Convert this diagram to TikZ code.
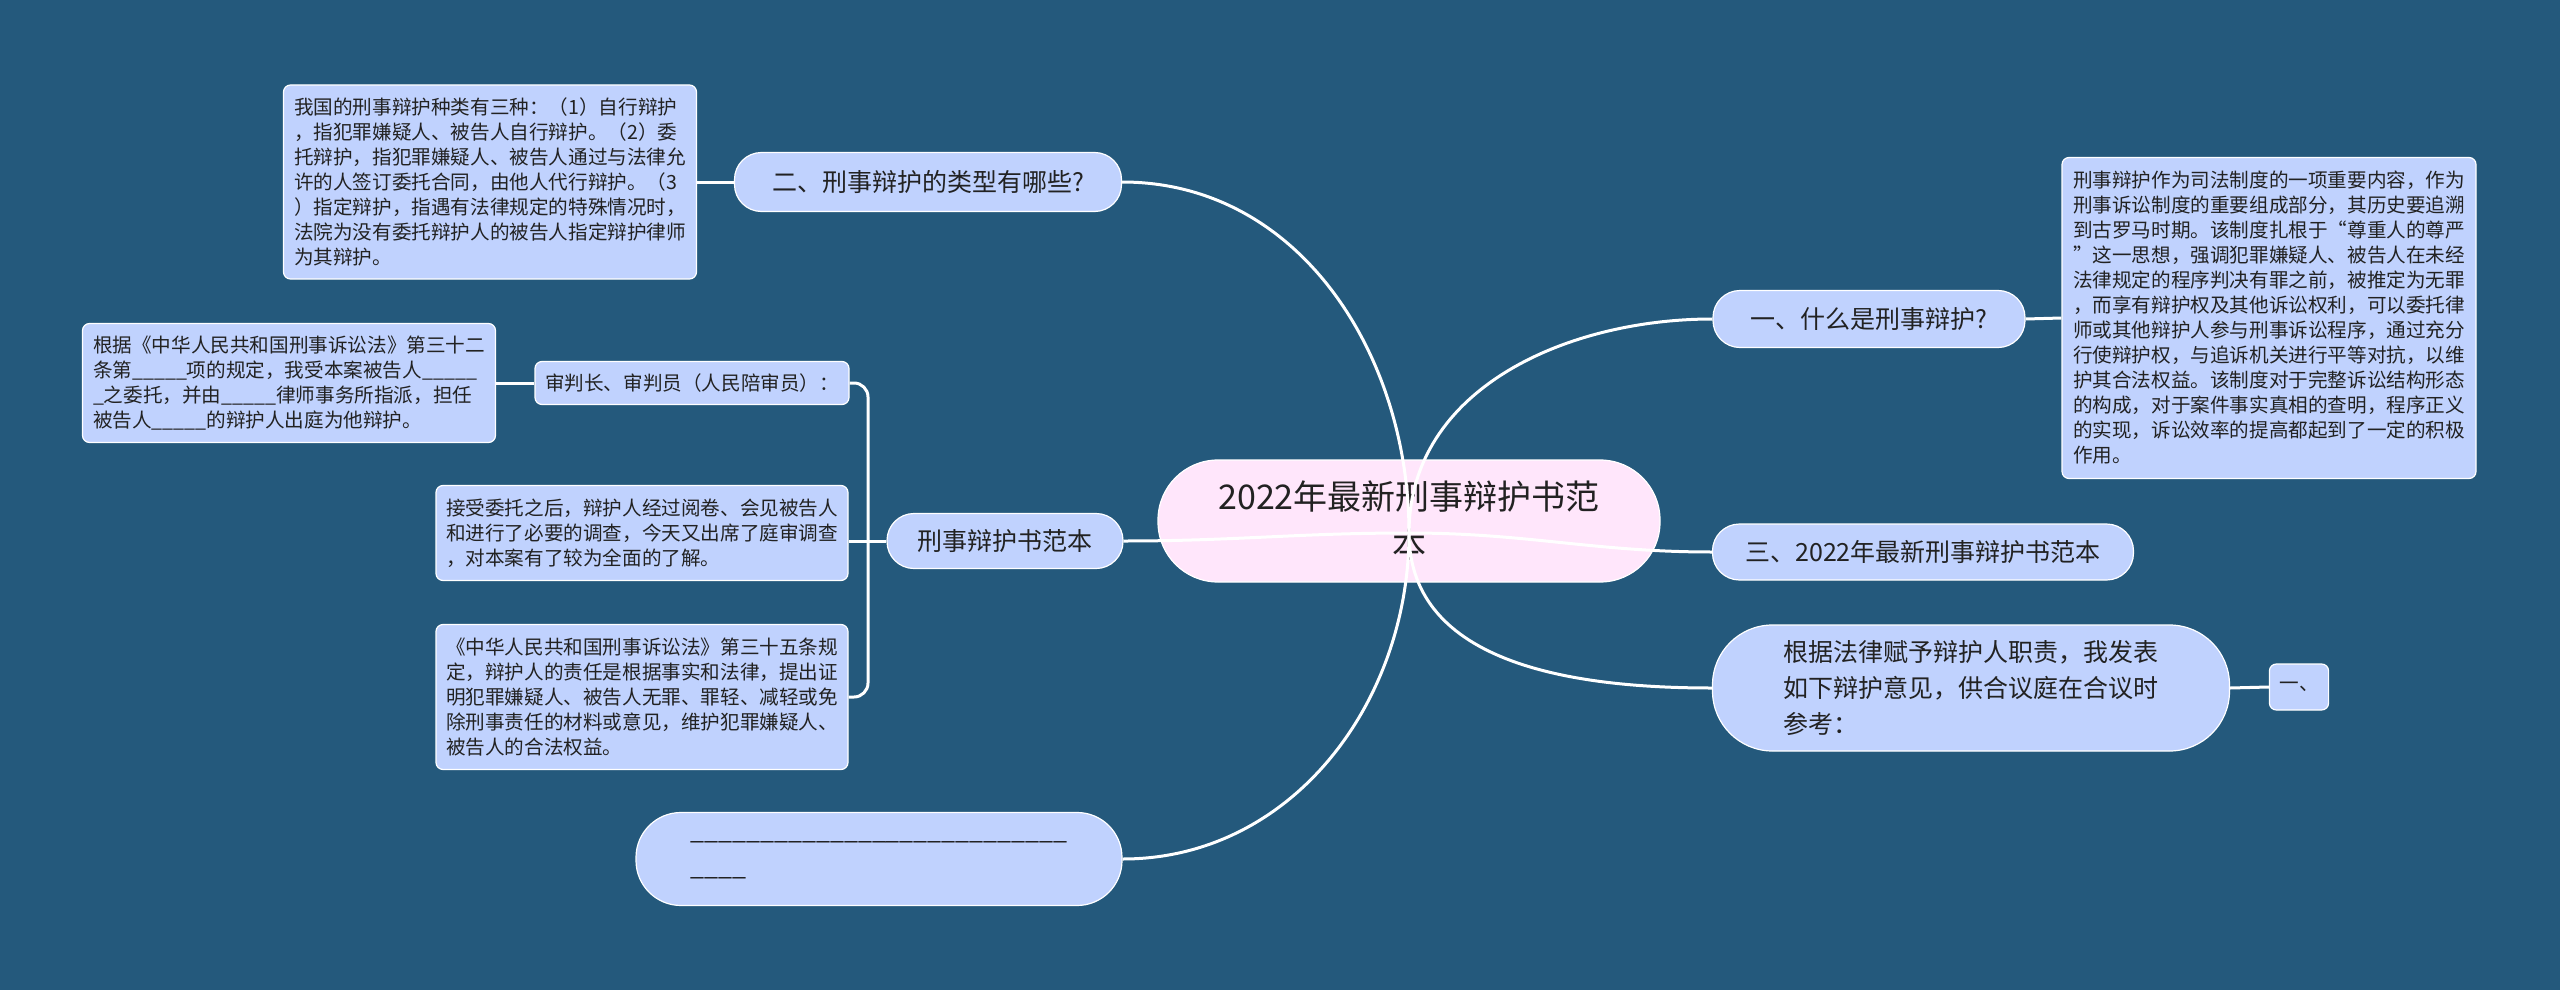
\documentclass[tikz,border=0pt]{standalone}
\usepackage{fontspec}
\setmainfont{Noto Sans CJK SC}
\definecolor{mapbg}{HTML}{24597C}
\definecolor{topicfill}{HTML}{C0D2FE}
\definecolor{rootfill}{HTML}{FFE6FB}
\definecolor{inktext}{HTML}{222222}

\begin{document}
\begin{tikzpicture}[x=1pt, y=-1pt,
		every node/.style={text=inktext, draw=white, line width=1.2pt},
		rootnode/.style={fill=rootfill, rounded corners=60, align=center, font=\fontsize{34}{48}\selectfont},
		topic/.style={fill=topicfill, rounded corners=27, align=left, font=\fontsize{25}{36}\selectfont},
		note/.style={fill=topicfill, rounded corners=7, align=left, inner xsep=10, font=\fontsize{19.6}{25}\selectfont},
		link/.style={draw=white, line width=3pt}]
		\fill[mapbg] (0, 0) rectangle (2560, 990);

		\node[rootnode, minimum width=502, minimum height=122] (root) at (1409, 521) {2022年最新刑事辩护书范\\本};
		\coordinate (hub) at (1409, 533);

		\node[topic, minimum width=387, minimum height=59] (n2) at (928, 182) {二、刑事辩护的类型有哪些?};
		\node[note, minimum width=413, minimum height=194] (d2) at (490, 182) {我国的刑事辩护种类有三种：（1）自行辩护\\，指犯罪嫌疑人、被告人自行辩护。（2）委\\托辩护，指犯罪嫌疑人、被告人通过与法律允\\许的人签订委托合同，由他人代行辩护。（3\\）指定辩护，指遇有法律规定的特殊情况时，\\法院为没有委托辩护人的被告人指定辩护律师\\为其辩护。};

		\node[topic, minimum width=236, minimum height=55] (n4) at (1005, 541) {刑事辩护书范本};
		\node[note, minimum width=314, minimum height=43] (s1) at (692, 383) {审判长、审判员（人民陪审员）：};
		\node[note, minimum width=413, minimum height=119] (s1a) at (289, 383) {根据《中华人民共和国刑事诉讼法》第三十二\\条第\_\_\_\_\_项的规定，我受本案被告人\_\_\_\_\_\\\_之委托，并由\_\_\_\_\_律师事务所指派，担任\\被告人\_\_\_\_\_的辩护人出庭为他辩护。};
		\node[note, minimum width=411, minimum height=95] (s2) at (642, 533) {接受委托之后，辩护人经过阅卷、会见被告人\\和进行了必要的调查，今天又出席了庭审调查\\，对本案有了较为全面的了解。};
		\node[note, minimum width=411, minimum height=145] (s3) at (642, 697) {《中华人民共和国刑事诉讼法》第三十五条规\\定，辩护人的责任是根据事实和法律，提出证\\明犯罪嫌疑人、被告人无罪、罪轻、减轻或免\\除刑事责任的材料或意见，维护犯罪嫌疑人、\\被告人的合法权益。};

		\node[topic, rounded corners=45, minimum width=486, minimum height=93] (n6) at (879, 859) {\_\_\_\_\_\_\_\_\_\_\_\_\_\_\_\_\_\_\_\_\_\_\_\_\_\_\_\\\_\_\_\_};

		\node[topic, minimum width=312, minimum height=57] (n1) at (1869, 319) {一、什么是刑事辩护?};
		\node[note, minimum width=414, minimum height=321] (d1) at (2269, 318) {刑事辩护作为司法制度的一项重要内容，作为\\刑事诉讼制度的重要组成部分，其历史要追溯\\到古罗马时期。该制度扎根于“尊重人的尊严\\”这一思想，强调犯罪嫌疑人、被告人在未经\\法律规定的程序判决有罪之前，被推定为无罪\\，而享有辩护权及其他诉讼权利，可以委托律\\师或其他辩护人参与刑事诉讼程序，通过充分\\行使辩护权，与追诉机关进行平等对抗，以维\\护其合法权益。该制度对于完整诉讼结构形态\\的构成，对于案件事实真相的查明，程序正义\\的实现，诉讼效率的提高都起到了一定的积极\\作用。};

		\node[topic, minimum width=421, minimum height=56] (n3) at (1923, 552) {三、2022年最新刑事辩护书范本};

		\node[topic, rounded corners=60, minimum width=517, minimum height=126] (n5) at (1971, 688) {根据法律赋予辩护人职责，我发表\\如下辩护意见，供合议庭在合议时\\参考：};
		\node[note, minimum width=58, minimum height=46] (n5a) at (2299, 687) {一、};

		\draw[link] (hub) to[out=90, in=0] (n2.east);
		\draw[link] (hub) to[out=180, in=0] (n4.east);
		\draw[link] (hub) to[out=-90, in=0] (n6.east);
		\draw[link] (hub) to[out=90, in=180] (n1.west);
		\draw[link] (hub) to[out=0, in=180] (n3.west);
		\draw[link] (hub) to[out=-90, in=180] (n5.west);

		\draw[link] (n2.west) -- (d2.east);
		\draw[link] (n1.east) -- (d1.west);
		\draw[link] (n5.east) -- (n5a.west);
		\draw[link] (s1.west) -- (s1a.east);

		\coordinate (fork) at (868, 541);
		\draw[link] (n4.west) -- (fork);
		\draw[link] (fork) -- (fork -| s2.east);
		\draw[link, rounded corners=14] (s1.east) -| (fork) |- (s3.east);
	\end{tikzpicture}
\end{document}
